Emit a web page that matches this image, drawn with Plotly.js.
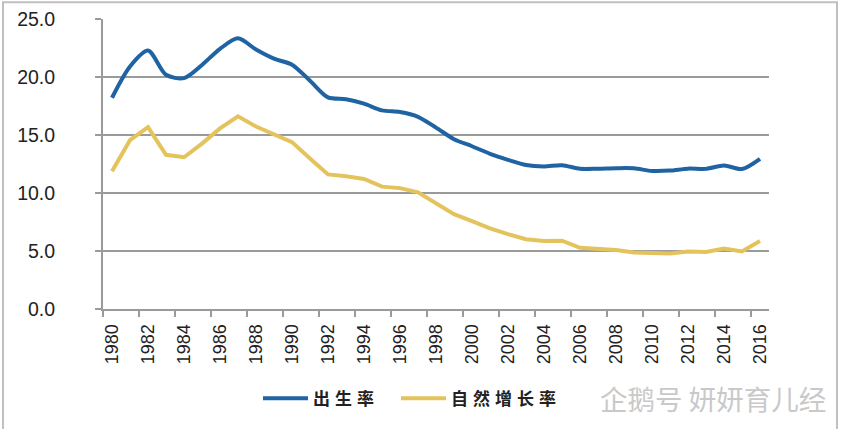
<!DOCTYPE html>
<html>
<head>
<meta charset="utf-8">
<script src="https://cdn.plot.ly/plotly-3.0.1.min.js"></script>
<style>
html,body{margin:0;padding:0;background:#fff;}
#chart{width:846px;height:429px;}
.legendtext{letter-spacing:5px;}
.legend .scrollbox{clip-path:none !important;}
</style>
</head>
<body>
<div id="chart"></div>
<script>
const years = [1980,1981,1982,1983,1984,1985,1986,1987,1988,1989,1990,1991,1992,1993,1994,1995,1996,1997,1998,1999,2000,2001,2002,2003,2004,2005,2006,2007,2008,2009,2010,2011,2012,2013,2014,2015,2016];
const birthRate = [18.21,20.91,22.28,20.19,19.90,21.04,22.43,23.33,22.37,21.58,21.06,19.68,18.24,18.09,17.70,17.12,16.98,16.57,15.64,14.64,14.03,13.38,12.86,12.41,12.29,12.40,12.09,12.10,12.14,12.13,11.90,11.93,12.10,12.08,12.37,12.07,12.95];
const growthRate = [11.87,14.55,15.68,13.29,13.08,14.26,15.57,16.61,15.73,15.04,14.39,12.98,11.60,11.45,11.21,10.55,10.42,10.06,9.14,8.18,7.58,6.95,6.45,6.01,5.87,5.89,5.28,5.17,5.08,4.87,4.79,4.79,4.95,4.92,5.21,4.96,5.86];
const seriesNames = ['出生率','自然增长率'];
const labelYears = years.filter((y,i)=>i%2===0);
const boundaryTicks = labelYears.map(y=>y-0.5);
const yTicks = [0,5,10,15,20,25];
const watermark = '企鹅号 妍妍育儿经';

const L=103, R=769, T=19, B=313;
const W=846, H=429;
const pw=R-L, ph=B-T;
function px(x){return (x-L)/pw;}
function py(y){return (B-y)/ph;}

const traces = [
  {x: years, y: birthRate, name: seriesNames[0], type:'scatter', mode:'lines',
   line:{color:'#1f63a3', width:4, shape:'spline', smoothing:0.8}},
  {x: years, y: growthRate, name: seriesNames[1], type:'scatter', mode:'lines',
   line:{color:'#e5c35c', width:4}}
];

const layout = {
  width:W, height:H,
  margin:{l:L, r:W-R, t:T, b:H-B},
  paper_bgcolor:'#fff', plot_bgcolor:'#fff',
  showlegend:true,
  font:{family:'Liberation Sans, Arial, sans-serif', color:'#222'},
  xaxis:{
    range:[years[0]-0.5, years[years.length-1]+0.5],
    tickmode:'array', tickvals:labelYears, ticktext:labelYears.map(String),
    ticks:'', tickangle:-90, tickfont:{size:18, color:'#222'},
    ticklabelstandoff:6,
    showgrid:false, zeroline:false,
    showline:true, linecolor:'#9a9a9a', linewidth:2,
    minor:{tickmode:'array', tickvals:boundaryTicks, ticks:'outside', ticklen:6, tickwidth:2, tickcolor:'#9a9a9a', showgrid:false},
    fixedrange:true
  },
  yaxis:{
    range:[0,25], tickmode:'array', tickvals:yTicks, tickformat:'.1f',
    ticks:'outside', ticklen:6, tickwidth:2, tickcolor:'#9a9a9a',
    tickfont:{size:19.5, color:'#222'},
    ticklabelstandoff:36,
    showgrid:true, gridcolor:'#9a9a9a', gridwidth:2,
    zeroline:false, showline:true, linecolor:'#9a9a9a', linewidth:2,
    fixedrange:true
  },
  legend:{
    orientation:'h', x:px(258), xanchor:'left', y:py(404), yanchor:'middle',
    font:{family:'Noto Sans CJK SC', size:17, color:'#222', weight:'bold'},
    itemwidth:45,
    entrywidth:78, entrywidthmode:'pixels', bgcolor:'rgba(0,0,0,0)'
  },
  shapes:[
    {type:'rect', xref:'paper', yref:'paper', x0:px(3), x1:px(837), y0:py(440), y1:py(2),
     line:{color:'#c0c0c0', width:2}, fillcolor:'rgba(0,0,0,0)', layer:'below'}
  ],
  annotations:[
    {xref:'paper', yref:'paper', x:px(598), y:py(403), xanchor:'left', yanchor:'middle',
     text:watermark, showarrow:false,
     font:{family:'Noto Sans CJK SC', size:27.5, color:'#c9c9c9'}}
  ]
};

Plotly.newPlot('chart', traces, layout, {displayModeBar:false, staticPlot:true});
</script>
</body>
</html>
